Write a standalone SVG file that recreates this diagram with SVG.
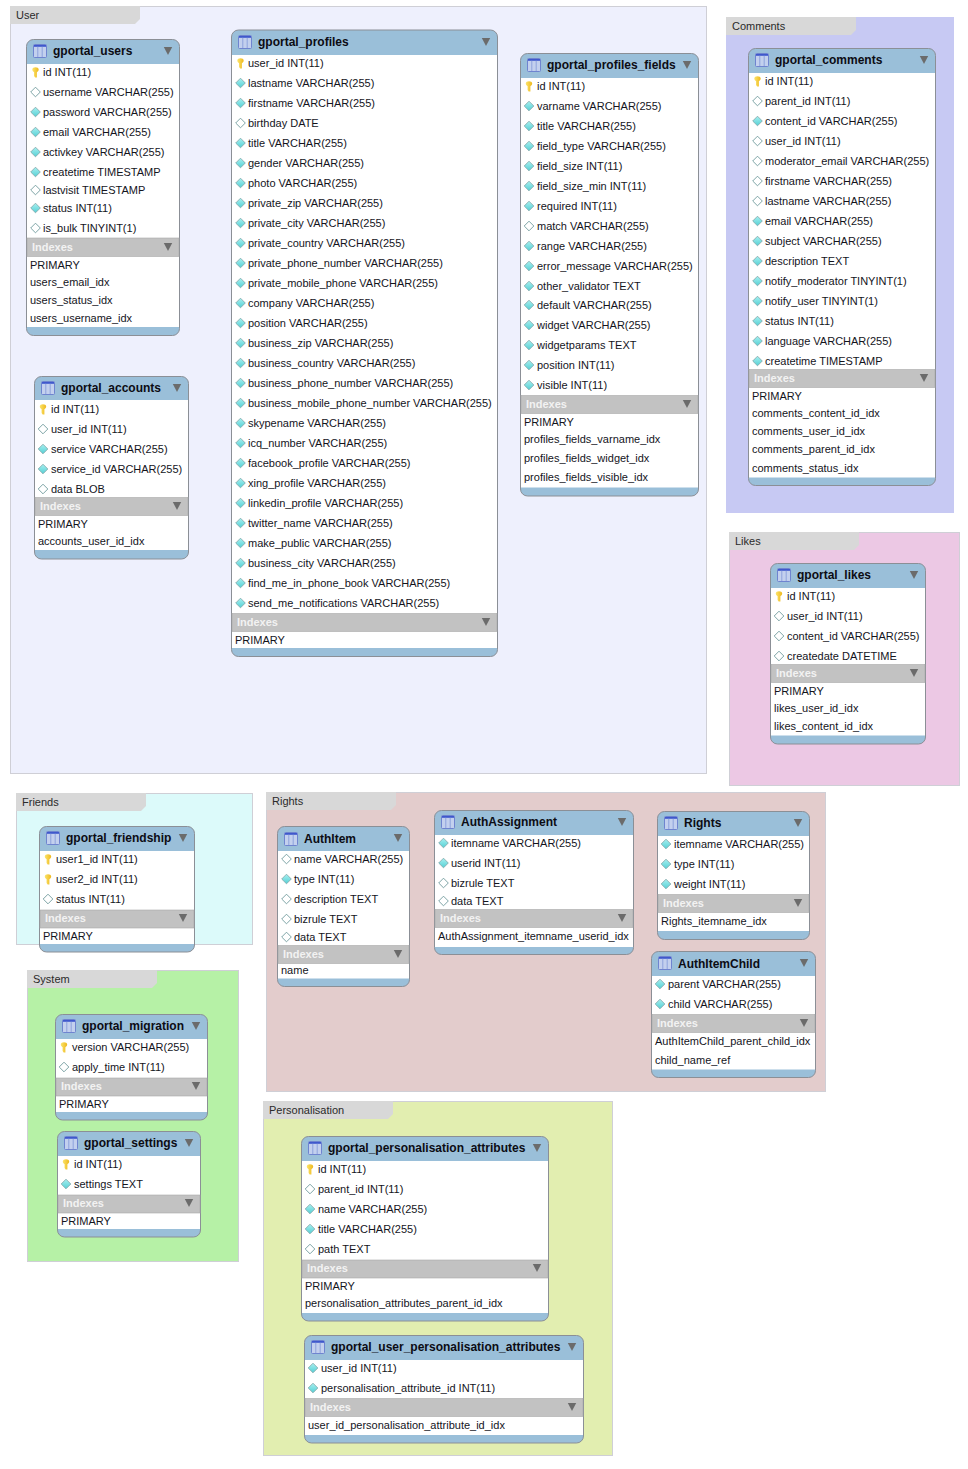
<svg xmlns="http://www.w3.org/2000/svg" xmlns:xlink="http://www.w3.org/1999/xlink" width="968" height="1469" viewBox="0 0 968 1469">
<style>
text{font-family:"Liberation Sans",Arial,sans-serif;fill:#14141c;font-size:11px}
.zl{fill:#2a2a2a}
.h{font-weight:bold;font-size:12px;fill:#0c0c14}
.ih{font-weight:bold;fill:#f2f2f2}
.ol{fill:#9abfd9;stroke:#8b8f96;stroke-width:1}
.bd{fill:#fff}
.bn{fill:#c2c2c2;stroke:#a9a9a9;stroke-width:.6}
.tab{fill:#d8d8d8}
.zb{stroke:#cfcfd6;stroke-width:1}
</style>
<defs>
<linearGradient id="dg" x1="0" y1="0" x2="0" y2="1"><stop offset="0" stop-color="#a8f0f0"/><stop offset="1" stop-color="#55cfd4"/></linearGradient>
<linearGradient id="kg" x1="0" y1="0" x2="1" y2="0"><stop offset="0" stop-color="#fbe46a"/><stop offset="1" stop-color="#eeb81e"/></linearGradient>
<g id="f"><path d="M0-4.800 4.800 0 0 4.800-4.800 0Z" fill="url(#dg)" stroke="#7fa3a6" stroke-width=".8"/></g>
<g id="o"><path d="M0-4.800 4.800 0 0 4.800-4.800 0Z" fill="#fff" stroke="#6f9a9c" stroke-width=".9"/></g>
<g id="k"><path d="M-3.200-2.600C-3.200-5.600 3.200-5.600 3.200-2.600 3.200-1 2-.4 1.400.2V5.400H-.4L-1.400 4V.2C-2-.4-3.200-1-3.200-2.600Z" fill="url(#kg)"/></g>
<g id="i"><rect x=".5" y=".5" width="13" height="13" rx="1" fill="#c3d0ee" stroke="#6f84cf"/><rect x="1" y="1" width="12" height="1.800" fill="#3f58cc"/><path d="M4.800 2.800V13M9.200 2.800V13" stroke="#8ea2dc"/></g>
<path id="t" d="M-4.200-4H4.200L0 4Z" fill="#6b6b6b"/>
</defs>
<g id="zones">
<g id="zone-user"><rect class="zb" x="10.500" y="6.500" width="696" height="767" fill="#eef0fd"/><path class="tab" d="M10 6H140V19L135 24H10Z"/><text class="zl" x="16" y="19">User</text></g>
<g id="zone-comments"><rect x="726" y="17" width="228" height="496" fill="#c7c9f3"/><path class="tab" d="M726 17H856V30L851 35H726Z"/><text class="zl" x="732" y="30">Comments</text></g>
<g id="zone-likes"><rect class="zb" x="729.500" y="532.500" width="230" height="253" fill="#ecc8e4"/><path class="tab" d="M729 532H859V545L854 550H729Z"/><text class="zl" x="735" y="545">Likes</text></g>
<g id="zone-friends"><rect class="zb" x="16.500" y="793.500" width="236" height="151" fill="#dcfafa"/><path class="tab" d="M16 793H146V806L141 811H16Z"/><text class="zl" x="22" y="806">Friends</text></g>
<g id="zone-rights"><rect class="zb" x="266.500" y="792.500" width="559" height="299" fill="#e3cccc"/><path class="tab" d="M266 792H396V805L391 810H266Z"/><text class="zl" x="272" y="805">Rights</text></g>
<g id="zone-system"><rect class="zb" x="27.500" y="970.500" width="211" height="291" fill="#b6f1a6"/><path class="tab" d="M27 970H157V983L152 988H27Z"/><text class="zl" x="33" y="983">System</text></g>
<g id="zone-personalisation"><rect class="zb" x="263.500" y="1101.500" width="349" height="354" fill="#e2eeb0"/><path class="tab" d="M263 1101H393V1114L388 1119H263Z"/><text class="zl" x="269" y="1114">Personalisation</text></g>
</g>
<g id="connectors"/>

<g id="gportal_users">
<rect class="ol" x="26.500" y="39.500" width="153" height="296" rx="7"/><rect class="bd" x="27" y="64" width="152" height="263"/><rect class="bn" x="27" y="238" width="152" height="18.500"/>
<use href="#i" x="33" y="44"/><text class="h" x="53" y="55">gportal_users</text><use href="#t" x="168" y="51"/>
<use href="#k" x="35.500" y="72"/><text x="43" y="76">id INT(11)</text>
<use href="#o" x="35.500" y="92"/><text x="43" y="96">username VARCHAR(255)</text>
<use href="#f" x="35.500" y="112"/><text x="43" y="116">password VARCHAR(255)</text>
<use href="#f" x="35.500" y="132"/><text x="43" y="136">email VARCHAR(255)</text>
<use href="#f" x="35.500" y="152"/><text x="43" y="156">activkey VARCHAR(255)</text>
<use href="#f" x="35.500" y="172"/><text x="43" y="176">createtime TIMESTAMP</text>
<use href="#o" x="35.500" y="190"/><text x="43" y="194">lastvisit TIMESTAMP</text>
<use href="#f" x="35.500" y="208"/><text x="43" y="212">status INT(11)</text>
<use href="#o" x="35.500" y="228"/><text x="43" y="232">is_bulk TINYINT(1)</text>
<text class="ih" x="32" y="251">Indexes</text><use href="#t" x="168" y="247"/>
<text x="30" y="269">PRIMARY</text><text x="30" y="286">users_email_idx</text><text x="30" y="304">users_status_idx</text><text x="30" y="322">users_username_idx</text>
</g>

<g id="gportal_accounts">
<rect class="ol" x="34.500" y="376.500" width="154" height="182.500" rx="7"/><rect class="bd" x="35" y="400" width="153" height="150"/><rect class="bn" x="35" y="497.500" width="153" height="18"/>
<use href="#i" x="41" y="381"/><text class="h" x="61" y="392">gportal_accounts</text><use href="#t" x="177" y="388"/>
<use href="#k" x="43" y="409"/><text x="51" y="413">id INT(11)</text>
<use href="#o" x="43" y="429"/><text x="51" y="433">user_id INT(11)</text>
<use href="#f" x="43" y="449"/><text x="51" y="453">service VARCHAR(255)</text>
<use href="#f" x="43" y="469"/><text x="51" y="473">service_id VARCHAR(255)</text>
<use href="#o" x="43" y="489"/><text x="51" y="493">data BLOB</text>
<text class="ih" x="40" y="510">Indexes</text><use href="#t" x="177" y="506"/>
<text x="38" y="528">PRIMARY</text><text x="38" y="545">accounts_user_id_idx</text>
</g>

<g id="gportal_profiles">
<rect class="ol" x="231.500" y="30" width="266" height="626.500" rx="7"/><rect class="bd" x="232" y="55" width="265" height="593"/><rect class="bn" x="232" y="613.500" width="265" height="18"/>
<use href="#i" x="238" y="35"/><text class="h" x="258" y="46">gportal_profiles</text><use href="#t" x="486" y="42"/>
<use href="#k" x="240.500" y="63"/><text x="248" y="67">user_id INT(11)</text>
<use href="#f" x="240.500" y="83"/><text x="248" y="87">lastname VARCHAR(255)</text>
<use href="#f" x="240.500" y="103"/><text x="248" y="107">firstname VARCHAR(255)</text>
<use href="#o" x="240.500" y="123"/><text x="248" y="127">birthday DATE</text>
<use href="#f" x="240.500" y="143"/><text x="248" y="147">title VARCHAR(255)</text>
<use href="#f" x="240.500" y="163"/><text x="248" y="167">gender VARCHAR(255)</text>
<use href="#f" x="240.500" y="183"/><text x="248" y="187">photo VARCHAR(255)</text>
<use href="#f" x="240.500" y="203"/><text x="248" y="207">private_zip VARCHAR(255)</text>
<use href="#f" x="240.500" y="223"/><text x="248" y="227">private_city VARCHAR(255)</text>
<use href="#f" x="240.500" y="243"/><text x="248" y="247">private_country VARCHAR(255)</text>
<use href="#f" x="240.500" y="263"/><text x="248" y="267">private_phone_number VARCHAR(255)</text>
<use href="#f" x="240.500" y="283"/><text x="248" y="287">private_mobile_phone VARCHAR(255)</text>
<use href="#f" x="240.500" y="303"/><text x="248" y="307">company VARCHAR(255)</text>
<use href="#f" x="240.500" y="323"/><text x="248" y="327">position VARCHAR(255)</text>
<use href="#f" x="240.500" y="343"/><text x="248" y="347">business_zip VARCHAR(255)</text>
<use href="#f" x="240.500" y="363"/><text x="248" y="367">business_country VARCHAR(255)</text>
<use href="#f" x="240.500" y="383"/><text x="248" y="387">business_phone_number VARCHAR(255)</text>
<use href="#f" x="240.500" y="403"/><text x="248" y="407">business_mobile_phone_number VARCHAR(255)</text>
<use href="#f" x="240.500" y="423"/><text x="248" y="427">skypename VARCHAR(255)</text>
<use href="#f" x="240.500" y="443"/><text x="248" y="447">icq_number VARCHAR(255)</text>
<use href="#f" x="240.500" y="463"/><text x="248" y="467">facebook_profile VARCHAR(255)</text>
<use href="#f" x="240.500" y="483"/><text x="248" y="487">xing_profile VARCHAR(255)</text>
<use href="#f" x="240.500" y="503"/><text x="248" y="507">linkedin_profile VARCHAR(255)</text>
<use href="#f" x="240.500" y="523"/><text x="248" y="527">twitter_name VARCHAR(255)</text>
<use href="#f" x="240.500" y="543"/><text x="248" y="547">make_public VARCHAR(255)</text>
<use href="#f" x="240.500" y="563"/><text x="248" y="567">business_city VARCHAR(255)</text>
<use href="#f" x="240.500" y="583"/><text x="248" y="587">find_me_in_phone_book VARCHAR(255)</text>
<use href="#f" x="240.500" y="603"/><text x="248" y="607">send_me_notifications VARCHAR(255)</text>
<text class="ih" x="237" y="626">Indexes</text><use href="#t" x="486" y="622"/>
<text x="235" y="644">PRIMARY</text>
</g>

<g id="gportal_profiles_fields">
<rect class="ol" x="520.500" y="53.500" width="178" height="442.500" rx="7"/><rect class="bd" x="521" y="78" width="177" height="409.500"/><rect class="bn" x="521" y="395.500" width="177" height="18"/>
<use href="#i" x="527" y="58"/><text class="h" x="547" y="69">gportal_profiles_fields</text><use href="#t" x="687" y="65"/>
<use href="#k" x="529" y="86"/><text x="537" y="90">id INT(11)</text>
<use href="#f" x="529" y="106"/><text x="537" y="110">varname VARCHAR(255)</text>
<use href="#f" x="529" y="126"/><text x="537" y="130">title VARCHAR(255)</text>
<use href="#f" x="529" y="146"/><text x="537" y="150">field_type VARCHAR(255)</text>
<use href="#f" x="529" y="166"/><text x="537" y="170">field_size INT(11)</text>
<use href="#f" x="529" y="186"/><text x="537" y="190">field_size_min INT(11)</text>
<use href="#f" x="529" y="206"/><text x="537" y="210">required INT(11)</text>
<use href="#o" x="529" y="226"/><text x="537" y="230">match VARCHAR(255)</text>
<use href="#f" x="529" y="246"/><text x="537" y="250">range VARCHAR(255)</text>
<use href="#f" x="529" y="266"/><text x="537" y="270">error_message VARCHAR(255)</text>
<use href="#f" x="529" y="286"/><text x="537" y="290">other_validator TEXT</text>
<use href="#f" x="529" y="305"/><text x="537" y="309">default VARCHAR(255)</text>
<use href="#f" x="529" y="325"/><text x="537" y="329">widget VARCHAR(255)</text>
<use href="#f" x="529" y="345"/><text x="537" y="349">widgetparams TEXT</text>
<use href="#f" x="529" y="365"/><text x="537" y="369">position INT(11)</text>
<use href="#f" x="529" y="385"/><text x="537" y="389">visible INT(11)</text>
<text class="ih" x="526" y="408">Indexes</text><use href="#t" x="687" y="404"/>
<text x="524" y="426">PRIMARY</text><text x="524" y="443">profiles_fields_varname_idx</text><text x="524" y="462">profiles_fields_widget_idx</text><text x="524" y="481">profiles_fields_visible_idx</text>
</g>

<g id="gportal_comments">
<rect class="ol" x="748.500" y="48.500" width="187" height="437" rx="7"/><rect class="bd" x="749" y="73" width="186" height="404.500"/><rect class="bn" x="749" y="369.500" width="186" height="18"/>
<use href="#i" x="755" y="53"/><text class="h" x="775" y="64">gportal_comments</text><use href="#t" x="924" y="60"/>
<use href="#k" x="757.500" y="81"/><text x="765" y="85">id INT(11)</text>
<use href="#o" x="757.500" y="101"/><text x="765" y="105">parent_id INT(11)</text>
<use href="#f" x="757.500" y="121"/><text x="765" y="125">content_id VARCHAR(255)</text>
<use href="#o" x="757.500" y="141"/><text x="765" y="145">user_id INT(11)</text>
<use href="#o" x="757.500" y="161"/><text x="765" y="165">moderator_email VARCHAR(255)</text>
<use href="#o" x="757.500" y="181"/><text x="765" y="185">firstname VARCHAR(255)</text>
<use href="#o" x="757.500" y="201"/><text x="765" y="205">lastname VARCHAR(255)</text>
<use href="#f" x="757.500" y="221"/><text x="765" y="225">email VARCHAR(255)</text>
<use href="#f" x="757.500" y="241"/><text x="765" y="245">subject VARCHAR(255)</text>
<use href="#f" x="757.500" y="261"/><text x="765" y="265">description TEXT</text>
<use href="#f" x="757.500" y="281"/><text x="765" y="285">notify_moderator TINYINT(1)</text>
<use href="#f" x="757.500" y="301"/><text x="765" y="305">notify_user TINYINT(1)</text>
<use href="#f" x="757.500" y="321"/><text x="765" y="325">status INT(11)</text>
<use href="#f" x="757.500" y="341"/><text x="765" y="345">language VARCHAR(255)</text>
<use href="#f" x="757.500" y="361"/><text x="765" y="365">createtime TIMESTAMP</text>
<text class="ih" x="754" y="382">Indexes</text><use href="#t" x="924" y="378"/>
<text x="752" y="400">PRIMARY</text><text x="752" y="417">comments_content_id_idx</text><text x="752" y="435">comments_user_id_idx</text><text x="752" y="453">comments_parent_id_idx</text><text x="752" y="472">comments_status_idx</text>
</g>

<g id="gportal_likes">
<rect class="ol" x="770.500" y="563.500" width="155" height="180.500" rx="7"/><rect class="bd" x="771" y="588" width="154" height="147.500"/><rect class="bn" x="771" y="664.500" width="154" height="18"/>
<use href="#i" x="777" y="568"/><text class="h" x="797" y="579">gportal_likes</text><use href="#t" x="914" y="575"/>
<use href="#k" x="779" y="596"/><text x="787" y="600">id INT(11)</text>
<use href="#o" x="779" y="616"/><text x="787" y="620">user_id INT(11)</text>
<use href="#o" x="779" y="636"/><text x="787" y="640">content_id VARCHAR(255)</text>
<use href="#o" x="779" y="656"/><text x="787" y="660">createdate DATETIME</text>
<text class="ih" x="776" y="677">Indexes</text><use href="#t" x="914" y="673"/>
<text x="774" y="695">PRIMARY</text><text x="774" y="712">likes_user_id_idx</text><text x="774" y="730">likes_content_id_idx</text>
</g>

<g id="gportal_friendship">
<rect class="ol" x="39.500" y="826.500" width="155" height="125.500" rx="7"/><rect class="bd" x="40" y="851" width="154" height="93"/><rect class="bn" x="40" y="910" width="154" height="18"/>
<use href="#i" x="46" y="831"/><text class="h" x="66" y="842">gportal_friendship</text><use href="#t" x="183" y="838"/>
<use href="#k" x="48" y="859"/><text x="56" y="863">user1_id INT(11)</text>
<use href="#k" x="48" y="879"/><text x="56" y="883">user2_id INT(11)</text>
<use href="#o" x="48" y="899"/><text x="56" y="903">status INT(11)</text>
<text class="ih" x="45" y="922">Indexes</text><use href="#t" x="183" y="918"/>
<text x="43" y="940">PRIMARY</text>
</g>

<g id="AuthItem">
<rect class="ol" x="277.500" y="826.500" width="132" height="160" rx="7"/><rect class="bd" x="278" y="851" width="131" height="127.500"/><rect class="bn" x="278" y="945.500" width="131" height="18"/>
<use href="#i" x="284" y="832"/><text class="h" x="304" y="843">AuthItem</text><use href="#t" x="398" y="838"/>
<use href="#o" x="286.500" y="859"/><text x="294" y="863">name VARCHAR(255)</text>
<use href="#f" x="286.500" y="879"/><text x="294" y="883">type INT(11)</text>
<use href="#o" x="286.500" y="899"/><text x="294" y="903">description TEXT</text>
<use href="#o" x="286.500" y="919"/><text x="294" y="923">bizrule TEXT</text>
<use href="#o" x="286.500" y="937"/><text x="294" y="941">data TEXT</text>
<text class="ih" x="283" y="958">Indexes</text><use href="#t" x="398" y="954"/>
<text x="281" y="974">name</text>
</g>

<g id="AuthAssignment">
<rect class="ol" x="434.500" y="810.500" width="199" height="144" rx="7"/><rect class="bd" x="435" y="835" width="198" height="112"/><rect class="bn" x="435" y="909.500" width="198" height="18"/>
<use href="#i" x="441" y="815"/><text class="h" x="461" y="826">AuthAssignment</text><use href="#t" x="622" y="822"/>
<use href="#f" x="443.500" y="843"/><text x="451" y="847">itemname VARCHAR(255)</text>
<use href="#f" x="443.500" y="863"/><text x="451" y="867">userid INT(11)</text>
<use href="#o" x="443.500" y="883"/><text x="451" y="887">bizrule TEXT</text>
<use href="#o" x="443.500" y="901"/><text x="451" y="905">data TEXT</text>
<text class="ih" x="440" y="922">Indexes</text><use href="#t" x="622" y="918"/>
<text x="438" y="940">AuthAssignment_itemname_userid_idx</text>
</g>

<g id="Rights">
<rect class="ol" x="657.500" y="811.500" width="152" height="128" rx="7"/><rect class="bd" x="658" y="836" width="151" height="95"/><rect class="bn" x="658" y="894.500" width="151" height="18"/>
<use href="#i" x="664" y="816"/><text class="h" x="684" y="827">Rights</text><use href="#t" x="798" y="823"/>
<use href="#f" x="666" y="844"/><text x="674" y="848">itemname VARCHAR(255)</text>
<use href="#f" x="666" y="864"/><text x="674" y="868">type INT(11)</text>
<use href="#f" x="666" y="884"/><text x="674" y="888">weight INT(11)</text>
<text class="ih" x="663" y="907">Indexes</text><use href="#t" x="798" y="903"/>
<text x="661" y="925">Rights_itemname_idx</text>
</g>

<g id="AuthItemChild">
<rect class="ol" x="651.500" y="951.500" width="164" height="126" rx="7"/><rect class="bd" x="652" y="976" width="163" height="93.500"/><rect class="bn" x="652" y="1014.500" width="163" height="18"/>
<use href="#i" x="658" y="956"/><text class="h" x="678" y="968">AuthItemChild</text><use href="#t" x="804" y="963"/>
<use href="#f" x="660" y="984"/><text x="668" y="988">parent VARCHAR(255)</text>
<use href="#f" x="660" y="1004"/><text x="668" y="1008">child VARCHAR(255)</text>
<text class="ih" x="657" y="1027">Indexes</text><use href="#t" x="804" y="1023"/>
<text x="655" y="1045">AuthItemChild_parent_child_idx</text><text x="655" y="1064">child_name_ref</text>
</g>

<g id="gportal_migration">
<rect class="ol" x="55.500" y="1014.500" width="152" height="105.500" rx="7"/><rect class="bd" x="56" y="1039" width="151" height="73"/><rect class="bn" x="56" y="1078" width="151" height="18"/>
<use href="#i" x="62" y="1019"/><text class="h" x="82" y="1030">gportal_migration</text><use href="#t" x="196" y="1026"/>
<use href="#k" x="64" y="1047"/><text x="72" y="1051">version VARCHAR(255)</text>
<use href="#o" x="64" y="1067"/><text x="72" y="1071">apply_time INT(11)</text>
<text class="ih" x="61" y="1090">Indexes</text><use href="#t" x="196" y="1086"/>
<text x="59" y="1108">PRIMARY</text>
</g>

<g id="gportal_settings">
<rect class="ol" x="57.500" y="1131.500" width="143" height="105.500" rx="7"/><rect class="bd" x="58" y="1156" width="142" height="73"/><rect class="bn" x="58" y="1195" width="142" height="18"/>
<use href="#i" x="64" y="1136"/><text class="h" x="84" y="1147">gportal_settings</text><use href="#t" x="189" y="1143"/>
<use href="#k" x="66" y="1164"/><text x="74" y="1168">id INT(11)</text>
<use href="#f" x="66" y="1184"/><text x="74" y="1188">settings TEXT</text>
<text class="ih" x="63" y="1207">Indexes</text><use href="#t" x="189" y="1203"/>
<text x="61" y="1225">PRIMARY</text>
</g>

<g id="gportal_personalisation_attributes">
<rect class="ol" x="301.500" y="1136.500" width="247" height="184.500" rx="7"/><rect class="bd" x="302" y="1161" width="246" height="152"/><rect class="bn" x="302" y="1260" width="246" height="18"/>
<use href="#i" x="308" y="1141"/><text class="h" x="328" y="1152">gportal_personalisation_attributes</text><use href="#t" x="537" y="1148"/>
<use href="#k" x="310" y="1169"/><text x="318" y="1173">id INT(11)</text>
<use href="#o" x="310" y="1189"/><text x="318" y="1193">parent_id INT(11)</text>
<use href="#f" x="310" y="1209"/><text x="318" y="1213">name VARCHAR(255)</text>
<use href="#f" x="310" y="1229"/><text x="318" y="1233">title VARCHAR(255)</text>
<use href="#o" x="310" y="1249"/><text x="318" y="1253">path TEXT</text>
<text class="ih" x="307" y="1272">Indexes</text><use href="#t" x="537" y="1268"/>
<text x="305" y="1290">PRIMARY</text><text x="305" y="1307">personalisation_attributes_parent_id_idx</text>
</g>

<g id="gportal_user_personalisation_attributes">
<rect class="ol" x="304.500" y="1335.500" width="279" height="107.500" rx="7"/><rect class="bd" x="305" y="1360" width="278" height="75"/><rect class="bn" x="305" y="1398.500" width="278" height="18"/>
<use href="#i" x="311" y="1340"/><text class="h" x="331" y="1351">gportal_user_personalisation_attributes</text><use href="#t" x="572" y="1347"/>
<use href="#f" x="313" y="1368"/><text x="321" y="1372">user_id INT(11)</text>
<use href="#f" x="313" y="1388"/><text x="321" y="1392">personalisation_attribute_id INT(11)</text>
<text class="ih" x="310" y="1411">Indexes</text><use href="#t" x="572" y="1407"/>
<text x="308" y="1429">user_id_personalisation_attribute_id_idx</text>
</g>
</svg>
